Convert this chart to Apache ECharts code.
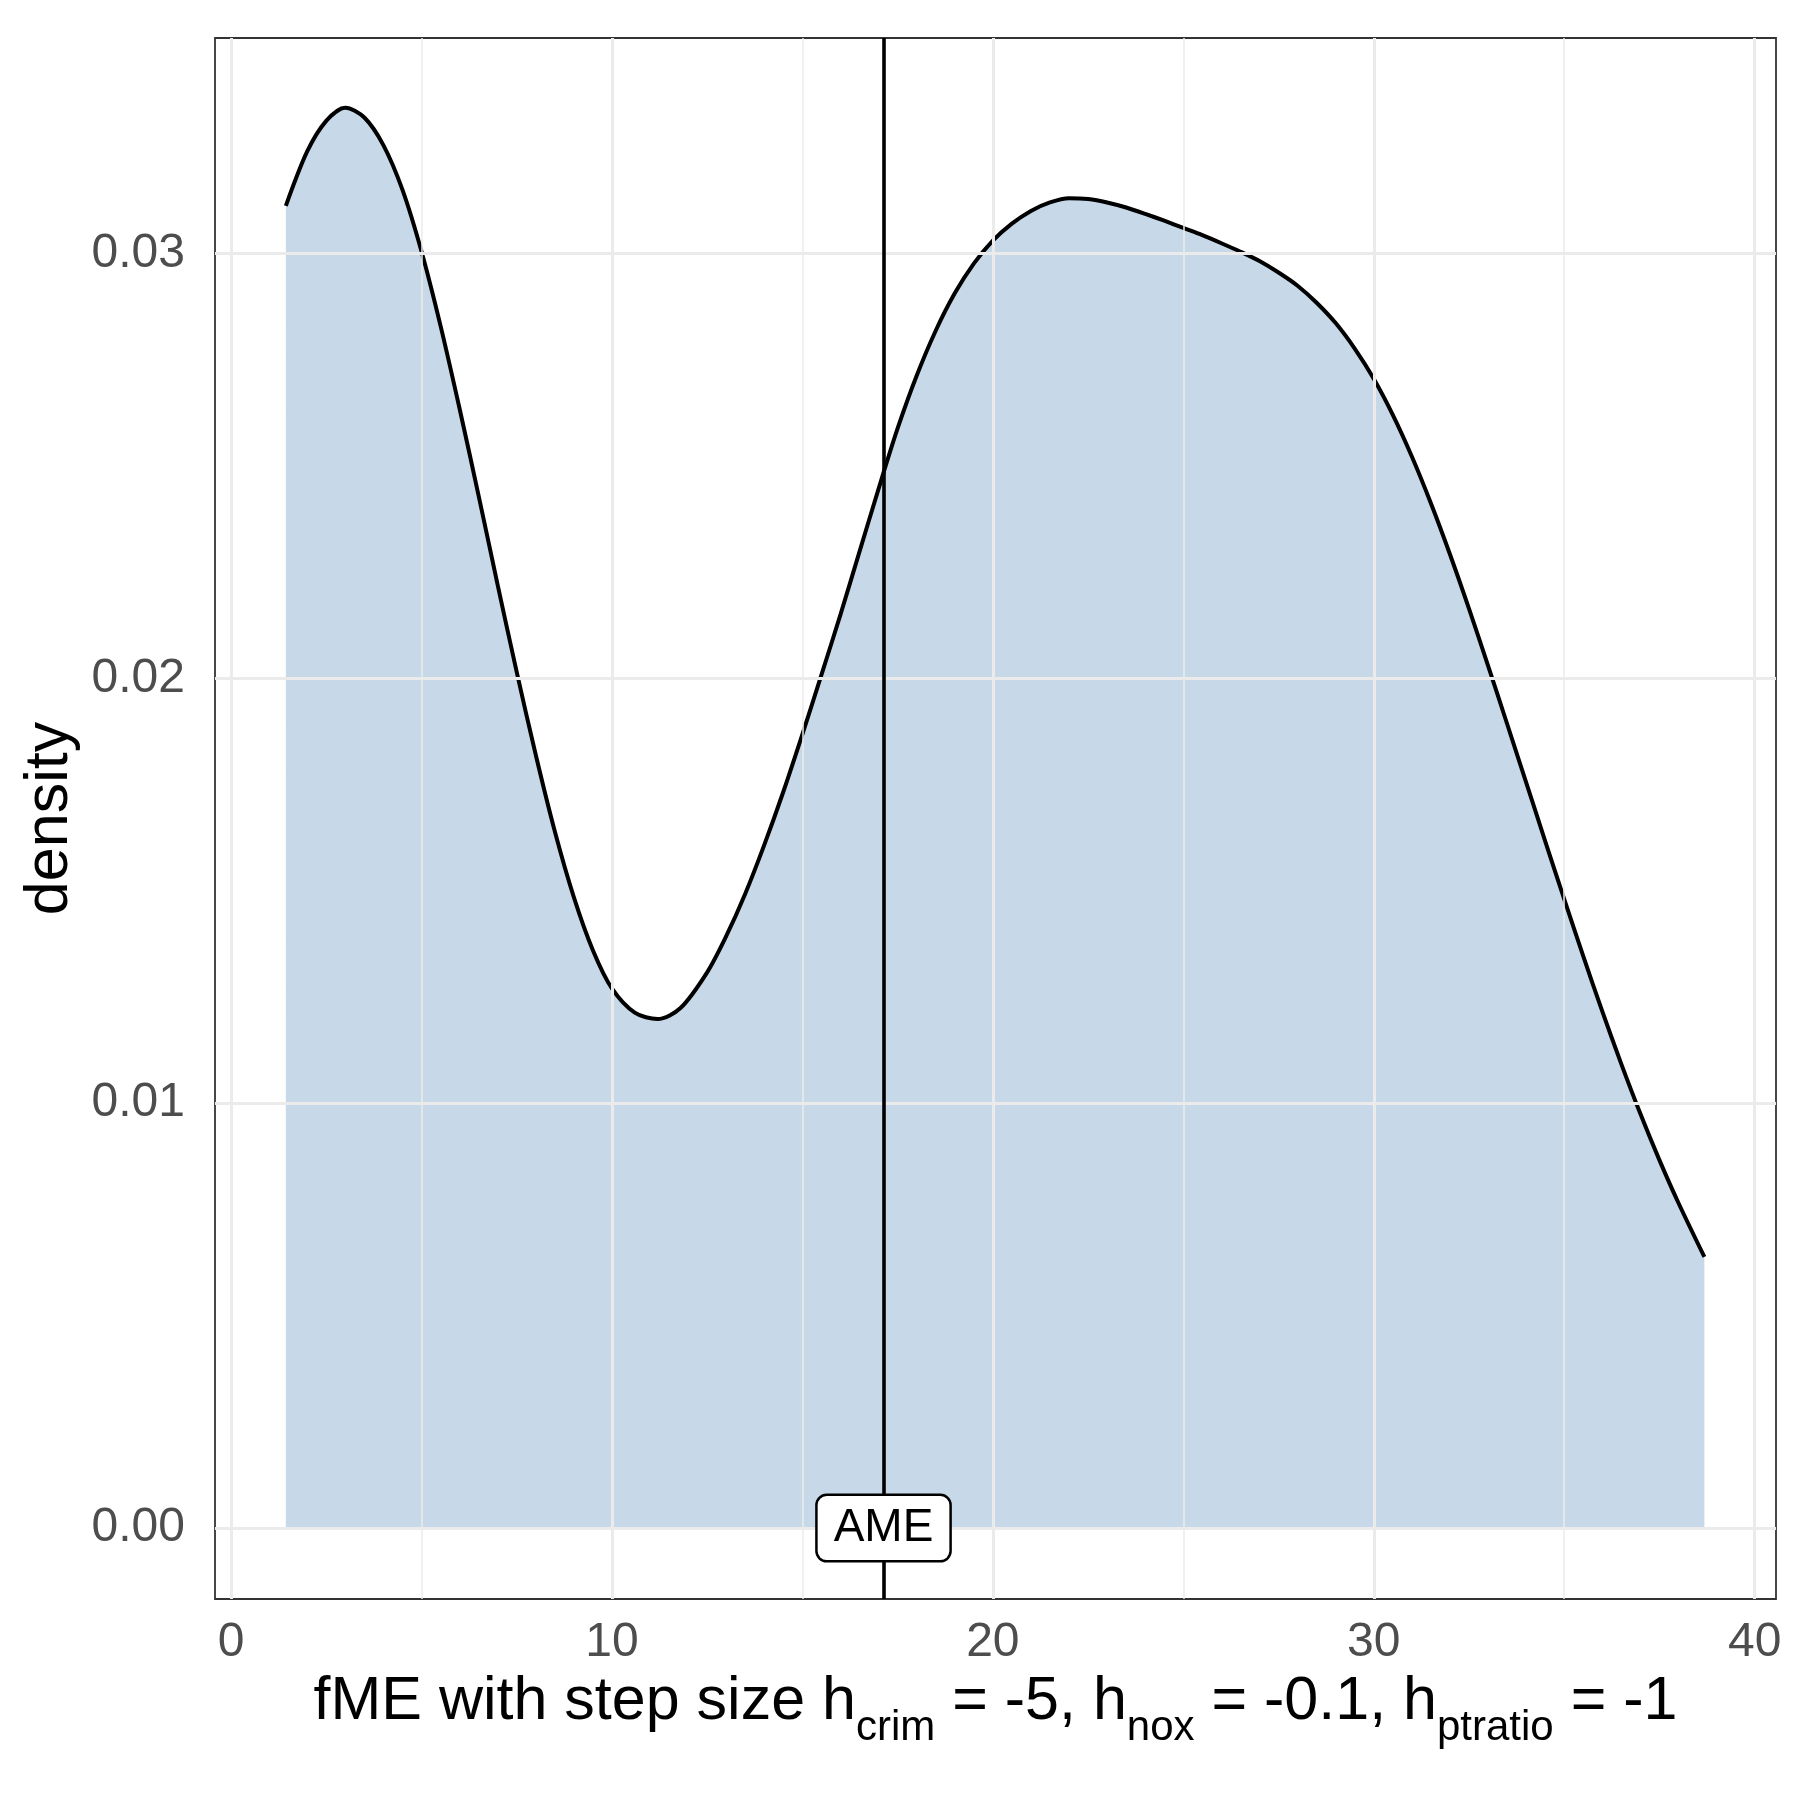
<!DOCTYPE html>
<html>
<head>
<meta charset="utf-8">
<title>fME density</title>
<script src="https://cdn.jsdelivr.net/npm/echarts@6/dist/echarts.min.js"></script>
<style>
  html, body { margin: 0; padding: 0; background: #fff; }
  #main { width: 1800px; height: 1800px; }
</style>
</head>
<body>
<div id="main"></div>
<script>
// density curve
var fmeX = [
  1.44, 2.0, 2.5, 3.0, 3.5, 4.0, 4.5, 5.0, 5.5, 6.0,
  6.5, 7.0, 7.5, 8.0, 8.5, 9.0, 9.5, 10.0, 10.6, 11.2,
  11.8, 12.5, 13.0, 13.5, 14.0, 14.5, 15.0, 15.5, 16.0,
  16.5, 17.0, 17.5, 18.0, 18.5, 19.0, 19.5, 20.0, 20.5, 21.0,
  21.5, 22.0, 22.5, 23.0, 23.5, 24.0, 24.5, 25.0, 25.5, 26.0,
  26.5, 27.0, 27.5, 28.0, 28.5, 29.0, 29.5, 30.0, 30.5, 31.0,
  31.5, 32.0, 32.5, 33.0, 33.5, 34.0, 34.5, 35.0, 35.5, 36.0,
  36.5, 37.0, 37.5, 38.0, 38.68
];
var densityY = [
  0.03112, 0.03240, 0.03312, 0.03343, 0.03320, 0.03255, 0.03150, 0.03005, 0.02830, 0.02635,
  0.02430, 0.02220, 0.02015, 0.01820, 0.01640, 0.01485, 0.01360, 0.01270, 0.01213, 0.01198,
  0.01224, 0.01308, 0.01393, 0.01493, 0.01608, 0.01733, 0.01868, 0.02008, 0.02150,
  0.02298, 0.02446, 0.02588, 0.02712, 0.02818, 0.02906, 0.02976, 0.03030, 0.03070, 0.03100,
  0.03120, 0.03130, 0.03128, 0.03120, 0.03108, 0.03093, 0.03077, 0.03060, 0.03043, 0.03024,
  0.03004, 0.02982, 0.02955, 0.02924, 0.02884, 0.02836, 0.02776, 0.02705, 0.02620, 0.02522,
  0.02412, 0.02292, 0.02164, 0.02030, 0.01893, 0.01755, 0.01617, 0.01480, 0.01346, 0.01216,
  0.01092, 0.00975, 0.00866, 0.00765, 0.00638
];
// average marginal effect
var ameX = 17.13;
var ameLabel = 'AME';

var xBreaks = [0, 10, 20, 30, 40];
var xMinorBreaks = [5, 15, 25, 35];
var yBreaks = [0, 0.01, 0.02, 0.03];
var yMinorBreaks = [0.005, 0.015, 0.025];
var xLimits = [-0.42, 40.56];
var yLimits = [-0.00167, 0.03507];

var FONT = '"Liberation Sans", Arial, Helvetica, sans-serif';
var GRID_COL = '#EBEBEB';

var points = [];
for (var i = 0; i < fmeX.length; i++) {
  points.push([fmeX[i], densityY[i]]);
}

// grid lines as markLines so they sit on the break values
var gridLines = [];
xBreaks.forEach(function (v) {
  gridLines.push({xAxis: v, lineStyle: {color: GRID_COL, width: 3, type: 'solid'}});
});
xMinorBreaks.forEach(function (v) {
  gridLines.push({xAxis: v, lineStyle: {color: GRID_COL, width: 1.5, type: 'solid'}});
});
yBreaks.forEach(function (v) {
  gridLines.push({yAxis: v, lineStyle: {color: GRID_COL, width: 3, type: 'solid'}});
});
yMinorBreaks.forEach(function (v) {
  gridLines.push({yAxis: v, lineStyle: {color: GRID_COL, width: 1.5, type: 'solid'}});
});

var myChart = echarts.init(document.getElementById('main'), null, {renderer: 'canvas'});
var option = {
  animation: false,
  backgroundColor: '#fff',
  grid: {
    left: 215,
    right: 24,
    top: 38,
    bottom: 201,
    show: true,
    borderColor: '#333333',
    borderWidth: 1.8,
    backgroundColor: '#fff',
    outerBoundsMode: 'none'
  },
  xAxis: {
    type: 'value',
    min: xLimits[0],
    max: xLimits[1],
    axisLine: {show: false},
    splitLine: {show: false},
    axisTick: {
      show: true,
      length: 12,
      customValues: xBreaks,
      lineStyle: {color: '#333333', width: 3}
    },
    axisLabel: {
      customValues: xBreaks,
      fontFamily: FONT,
      fontSize: 48,
      color: '#4D4D4D',
      margin: 20
    },
    name: '{m|fME with step size h}{s|crim}{m| = -5, h}{s|nox}{m| = -0.1, h}{s|ptratio}{m| = -1}',
    nameLocation: 'middle',
    nameGap: 72,
    nameTextStyle: {
      rich: {
        m: {fontFamily: FONT, fontSize: 61, lineHeight: 70, color: '#000', verticalAlign: 'top'},
        s: {fontFamily: FONT, fontSize: 42, lineHeight: 42, color: '#000', verticalAlign: 'top', padding: [36, 0, 0, 0]}
      }
    }
  },
  yAxis: {
    type: 'value',
    min: yLimits[0],
    max: yLimits[1],
    axisLine: {show: false},
    splitLine: {show: false},
    axisTick: {
      show: true,
      length: 12,
      customValues: yBreaks,
      lineStyle: {color: '#333333', width: 3}
    },
    axisLabel: {
      customValues: yBreaks,
      fontFamily: FONT,
      fontSize: 48,
      color: '#4D4D4D',
      margin: 30,
      formatter: function (v) {
        return v.toFixed(2);
      }
    },
    name: 'density',
    nameLocation: 'middle',
    nameGap: 132,
    nameRotate: 90,
    nameTextStyle: {fontFamily: FONT, fontSize: 61, color: '#000'}
  },
  series: [
    {
      name: 'grid',
      type: 'line',
      data: [],
      z: 1,
      silent: true,
      markLine: {
        silent: true,
        symbol: ['none', 'none'],
        label: {show: false},
        data: gridLines
      }
    },
    {
      name: 'density',
      type: 'line',
      data: points,
      z: 2,
      smooth: 0.3,
      showSymbol: false,
      symbol: 'none',
      lineStyle: {color: '#000', width: 4, join: 'round'},
      areaStyle: {color: 'rgb(70,130,180)', opacity: 0.3, origin: 0}
    },
    {
      name: 'ame',
      type: 'line',
      data: [],
      z: 3,
      markLine: {
        silent: true,
        symbol: ['none', 'none'],
        label: {show: false},
        lineStyle: {color: '#000', width: 3.6, type: 'solid'},
        data: [{xAxis: ameX}]
      }
    },
    {
      name: 'ameLabel',
      type: 'scatter',
      data: [[ameX, 0]],
      z: 10,
      symbolSize: 2,
      itemStyle: {color: 'rgba(0,0,0,0)', opacity: 1},
      label: {
        show: true,
        position: 'inside',
        formatter: ameLabel,
        fontFamily: FONT,
        fontSize: 46,
        lineHeight: 48,
        color: '#000',
        opacity: 1,
        backgroundColor: '#fff',
        borderColor: '#000',
        borderWidth: 2.5,
        borderRadius: 9,
        padding: [8, 16, 8, 16]
      }
    }
  ]
};
myChart.setOption(option);
</script>
</body>
</html>
